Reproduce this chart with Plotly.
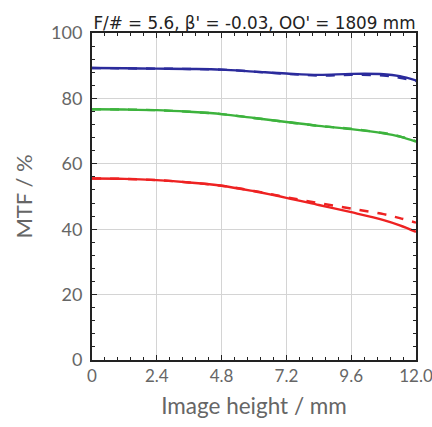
import plotly.graph_objects as go

x = [0, 1.2, 2.4, 3.6, 4.8, 6.0, 7.2, 8.4, 9.6, 10.8, 11.4, 12.0]
blue_solid = [89.3, 89.2, 89.1, 89.0, 88.8, 88.2, 87.6, 87.2, 87.5, 87.4, 86.8, 85.5]
blue_dash = [89.3, 89.2, 89.1, 89.0, 88.8, 88.2, 87.5, 87.0, 87.2, 87.0, 86.3, 85.3]
green_solid = [76.7, 76.6, 76.4, 75.9, 75.2, 74.0, 72.8, 71.6, 70.6, 69.3, 68.3, 66.8]
green_dash = [76.7, 76.6, 76.4, 75.9, 75.2, 74.0, 72.8, 71.6, 70.7, 69.4, 68.4, 66.9]
red_solid = [55.5, 55.4, 55.0, 54.3, 53.3, 51.6, 49.6, 47.4, 45.2, 42.8, 41.2, 39.2]
red_dash = [55.5, 55.4, 55.0, 54.3, 53.3, 51.7, 49.8, 48.0, 46.3, 44.6, 43.4, 42.0]
xticks = [0, 2.4, 4.8, 7.2, 9.6, 12.0]
xticklabels = ["0", "2.4", "4.8", "7.2", "9.6", "12.0"]
yticks = [0, 20, 40, 60, 80, 100]

fig = go.Figure()
series = [
    (blue_solid, "#2b2b9c", "solid"), (blue_dash, "#2b2b9c", "dash"),
    (green_solid, "#3db33d", "solid"), (green_dash, "#3db33d", "dash"),
    (red_solid, "#ee2222", "solid"), (red_dash, "#ee2222", "dash"),
]
for ys, c, d in series:
    fig.add_trace(go.Scatter(x=x, y=ys, mode="lines", line=dict(color=c, width=2.4, dash=d, shape="spline"),
                             showlegend=False))

axis_common = dict(showline=True, linecolor="#222", linewidth=2, mirror="allticks", ticks="inside",
                   ticklen=5, tickcolor="#222", showgrid=True, gridcolor="#d4d4d4", gridwidth=1,
                   zeroline=False, ticklabeloverflow="allow", automargin=False)
fig.update_xaxes(range=[0, 12], tickvals=xticks, ticktext=xticklabels,
                 tickfont=dict(family="Lato", size=17, color="#666"),
                 minor=dict(dtick=0.48, ticks="inside", ticklen=3, tickcolor="#222", showgrid=False),
                 title=dict(text="Image height / mm", font=dict(family="Lato", size=22.5, color="#666"), standoff=13),
                 **axis_common)
fig.update_yaxes(range=[0, 100], tickvals=yticks,
                 tickfont=dict(family="Lato", size=18, color="#666"), ticklabelstandoff=4,
                 minor=dict(dtick=4, ticks="inside", ticklen=3, tickcolor="#222", showgrid=False),
                 title=dict(text="MTF / %", font=dict(family="Lato", size=22, color="#666"), standoff=12),
                 **axis_common)
fig.update_layout(
    width=432, height=427, margin=dict(l=92, r=16, t=33, b=67, autoexpand=False),
    plot_bgcolor="white", paper_bgcolor="white",
    title=dict(text="F/# = 5.6, β' = -0.03, OO' = 1809 mm", x=0.589, xanchor="center", y=0.946, yanchor="middle",
               automargin=False, font=dict(family="DejaVu Sans", size=16.8, color="#222")),
)
fig.write_html("out.html")
